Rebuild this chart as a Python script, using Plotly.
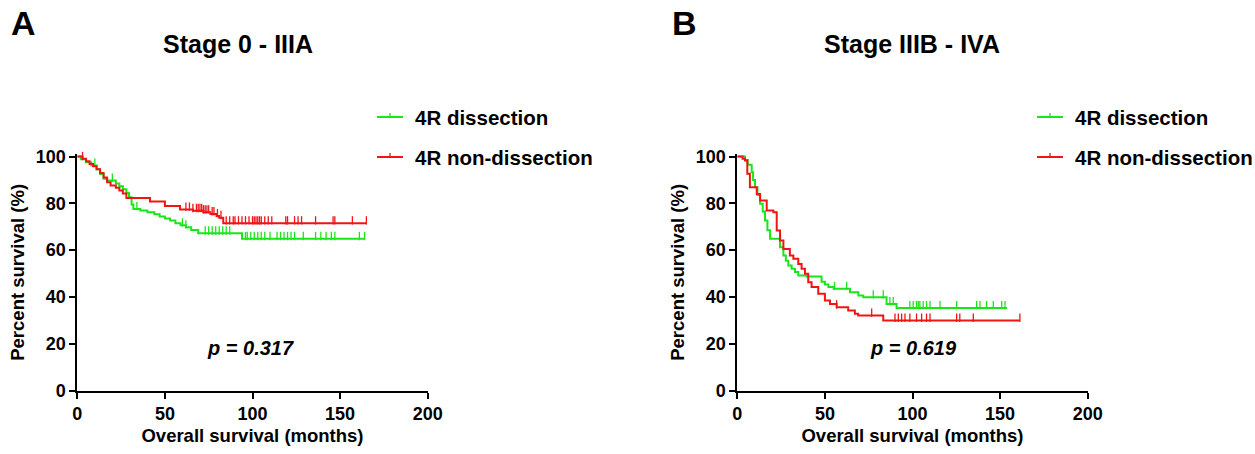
import numpy as np
import plotly.graph_objects as go

# ---------------- Data ----------------
# Panel A: Stage 0 - IIIA
a_diss_t = [0, 2, 5, 8, 11, 13, 15, 17, 22, 24, 26, 28, 29.5, 31, 32, 36, 40, 44, 47, 50, 53, 56, 59, 62, 65, 69, 94, 164]
a_diss_s = [100, 98.8, 97.5, 96.2, 94.5, 92.5, 90.5, 89.7, 88.5, 87.3, 86, 84.5, 82.6, 79.5, 77.6, 76.9, 76.2, 75.3, 74.4, 73.5, 72.6, 71.5, 70.6, 69.8, 68.6, 67.2, 64.8, 64.8]
a_diss_cens = [10, 20, 34, 60, 62, 73, 75, 77, 79, 81, 83, 85, 87, 96, 97, 99, 101, 103, 105, 107, 110, 114, 116, 118, 120, 122, 124, 129, 136, 139, 142, 145, 147, 161, 164]

a_non_t = [0, 3, 5, 7, 9, 11, 13, 15, 17, 19, 22, 24, 26, 28, 41.5, 50, 58.6, 66, 72, 76, 79.5, 81, 83.3, 165]
a_non_s = [100, 99, 98, 96.8, 95.8, 94.5, 93, 91, 89, 87.6, 86.6, 85.5, 84.2, 82.3, 80.8, 78.8, 77.4, 76.8, 76.2, 75.4, 74.6, 73.8, 71.5, 71.5]
a_non_cens = [3, 62, 64, 66, 68, 69, 70, 71, 72, 73, 74, 75, 77, 78, 80, 82, 85, 87, 89, 90, 92, 94, 96, 98, 100, 101, 102, 103, 104, 105, 107, 109, 111, 119, 120, 124, 126, 128, 136, 146, 147, 157, 165]

# Panel B: Stage IIIB - IVA
b_diss_t = [0, 4.4, 6, 8.2, 9, 10.1, 11.5, 13, 14.5, 15.8, 17.2, 18.7, 24.4, 26.3, 27.7, 29.1, 31, 32.9, 34.8, 39.6, 48.1, 50, 52, 55, 64.3, 69.1, 71.9, 85.2, 90.9, 154]
b_diss_s = [100, 98.5, 96.5, 93.3, 90, 86.9, 83.5, 79.8, 76.5, 72.6, 68.5, 64.8, 61.2, 57.7, 55.5, 53.4, 52, 50.6, 49.1, 48.7, 46.5, 45.3, 44.2, 43.5, 42, 40.6, 39.9, 37, 35.3, 35.3]
b_diss_cens = [55.5, 62.4, 77.6, 83.3, 87.1, 89, 98.5, 100.4, 102.3, 103.3, 104.2, 106.1, 108, 110, 115.7, 125.2, 136.6, 138.5, 142.3, 146.1, 150.9, 152.8]

b_non_t = [0, 3, 4.4, 5.7, 7.2, 11.1, 13, 16.8, 20.6, 22.5, 24.4, 26.3, 30, 32, 34.8, 36.7, 38.6, 40.5, 42.4, 46.2, 50, 52.9, 56.7, 63.3, 67.1, 69, 83.3, 161.3]
b_non_s = [100, 99, 98.3, 92.6, 86.9, 84, 81.2, 76.9, 76.2, 68.4, 64.1, 60.5, 57.7, 56.3, 54.1, 52, 49.9, 46.3, 44.2, 41.3, 38.5, 37, 35.6, 34.2, 32.8, 32.1, 29.9, 29.9]
b_non_cens = [56.7, 76.7, 90, 91.9, 93.8, 95.7, 98.5, 102.3, 105.2, 108, 110, 125.2, 127, 134.7, 161.3]

group_names = ["4R dissection", "4R non-dissection"]
panel_titles = ["Stage 0 - IIIA", "Stage IIIB - IVA"]
panel_letters = ["A", "B"]
p_values = ["p = 0.317", "p = 0.619"]
x_ticks = [0, 50, 100, 150, 200]
y_ticks = [0, 20, 40, 60, 80, 100]

GREEN = "#19E619"
RED = "#F01414"
FONT = "Arial, Liberation Sans, sans-serif"

W, H = 1255, 454


def step_at(times, surv, t):
    idx = np.searchsorted(np.asarray(times), t, side="right") - 1
    return np.asarray(surv)[np.clip(idx, 0, len(surv) - 1)]


fig = go.Figure()

panels = [
    ("x", "y", [(a_diss_t, a_diss_s, a_diss_cens, GREEN), (a_non_t, a_non_s, a_non_cens, RED)]),
    ("x2", "y2", [(b_diss_t, b_diss_s, b_diss_cens, GREEN), (b_non_t, b_non_s, b_non_cens, RED)]),
]

for xa, ya, series in panels:
    for (t, s, c, col), name in zip(series, group_names):
        fig.add_trace(go.Scatter(x=t, y=s, mode="lines", line=dict(color=col, width=2, shape="hv"),
                                 name=name, showlegend=False, xaxis=xa, yaxis=ya))
        cy = step_at(t, s, np.asarray(c, dtype=float)) + 1.2
        fig.add_trace(go.Scatter(x=c, y=cy, mode="markers",
                                 marker=dict(symbol="line-ns", size=6, line=dict(color=col, width=1.3)),
                                 showlegend=False, xaxis=xa, yaxis=ya, cliponaxis=False, hoverinfo="skip"))


def px_x(p):
    return p / W


def px_y(p):
    return 1 - p / H


y0_px, y100_px = 390.5, 156.5
ymax = 101
ytop_px = y0_px - (y0_px - y100_px) * ymax / 100
ydom = [px_y(y0_px), px_y(ytop_px)]

axis_common = dict(showline=True, linewidth=2, linecolor="black", ticks="outside", ticklen=6, tickwidth=2,
                   tickcolor="black", showgrid=False, zeroline=False, automargin=False,
                   tickfont=dict(family=FONT, size=18, color="black", weight="bold"))

xdoms = [[px_x(77.3), px_x(427.7)], [px_x(737.3), px_x(1087.7)]]
for i, suffix in enumerate(["", "2"]):
    fig.update_layout(**{
        "xaxis" + suffix: dict(axis_common, domain=xdoms[i], range=[0, 200], tickvals=x_ticks,
                               anchor="y" + suffix,
                               title=dict(text="Overall survival (months)", standoff=6,
                                          font=dict(family=FONT, size=18.5, color="black", weight="bold"))),
        "yaxis" + suffix: dict(axis_common, domain=ydom, range=[0, ymax], tickvals=y_ticks,
                               anchor="x" + suffix,
                               title=dict(text="Percent survival (%)", standoff=6,
                                          font=dict(family=FONT, size=18.5, color="black", weight="bold"))),
    })

annotations = []
shapes = []
letter_x = [9, 670]
title_x = [238, 912]
p_x = [250, 913]
leg_line_x = [(377, 403), (1037, 1063)]
leg_rows = [117, 157]
for i in range(2):
    annotations.append(dict(text=panel_letters[i], x=px_x(letter_x[i]), y=px_y(23), xref="paper", yref="paper",
                            xanchor="left", yanchor="middle", showarrow=False,
                            font=dict(family=FONT, size=34, color="black", weight="bold")))
    annotations.append(dict(text=panel_titles[i], x=px_x(title_x[i]), y=px_y(44), xref="paper", yref="paper",
                            xanchor="center", yanchor="middle", showarrow=False,
                            font=dict(family=FONT, size=25, color="black", weight="bold")))
    annotations.append(dict(text="<i>" + p_values[i] + "</i>", x=px_x(p_x[i]), y=px_y(348), xref="paper",
                            yref="paper", xanchor="center", yanchor="middle", showarrow=False,
                            font=dict(family=FONT, size=20, color="black", weight="bold")))
    x1, x2 = leg_line_x[i]
    for row, name, col in zip(leg_rows, group_names, [GREEN, RED]):
        shapes.append(dict(type="line", xref="paper", yref="paper", x0=px_x(x1), x1=px_x(x2),
                           y0=px_y(row), y1=px_y(row), line=dict(color=col, width=2)))
        xm = (x1 + x2) / 2
        shapes.append(dict(type="line", xref="paper", yref="paper", x0=px_x(xm), x1=px_x(xm),
                           y0=px_y(row), y1=px_y(row - 4), line=dict(color=col, width=1.3)))
        annotations.append(dict(text=name, x=px_x(x2 + 10), y=px_y(row), xref="paper", yref="paper",
                                xanchor="left", yanchor="middle", showarrow=False,
                                font=dict(family=FONT, size=20.5, color="black", weight="bold")))

fig.update_layout(template="none", width=W, height=H, margin=dict(l=0, r=0, t=0, b=0, pad=0),
                  plot_bgcolor="white", paper_bgcolor="white", font=dict(family=FONT, color="black"),
                  annotations=annotations, shapes=shapes, showlegend=False)

fig.write_html("out.html", config={"displayModeBar": False},
               post_script="document.body.style.margin='0px';")
